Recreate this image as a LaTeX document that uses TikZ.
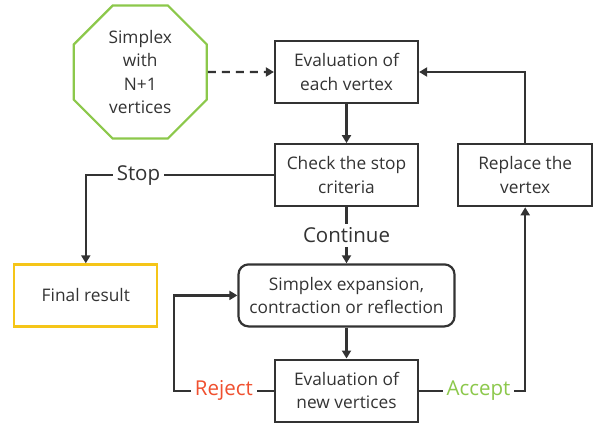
\documentclass[tikz,border=0pt]{standalone}
\usepackage{fontspec}
\setmainfont{Open Sans}
\usetikzlibrary{shapes.geometric,
                arrows.meta,
                positioning}
\definecolor{ink}{HTML}{333333}
\definecolor{startgreen}{HTML}{8CC84B}
\definecolor{endyellow}{HTML}{F5C518}
\definecolor{rejectred}{HTML}{F0502F}
\tikzset{block/.style=
   {rectangle,
    draw=ink,
    line width=2.2pt,
    text=ink,
    align=center,
    font=\fontsize{17.3}{23.5}\selectfont,
    minimum width=143pt,
    minimum height=62pt}}
\tikzset{start/.style =
   {regular polygon,
    regular polygon sides=8,
    draw=startgreen,
    line width=2.2pt,
    text=ink,
    align=center,
    font=\fontsize{17.3}{23.5}\selectfont,
    minimum size=144pt}}
\tikzset{tag/.style =
   {fill=white,
    inner sep=4pt,
    text=ink,
    font=\fontsize{20.5}{24}\selectfont}}
\tikzset{arrow/.style = {draw=ink, line width=2.2pt, -{Triangle[length=8pt,width=9pt]}}}

\begin{document}
\begin{tikzpicture}
    \useasboundingbox (0,0) rectangle (594pt,-423pt);

    \node [block] (eval) at (346.5pt,-72pt) {Evaluation of\\each vertex};

    \node [start,
           left = 66pt of eval] (start) {Simplex\\with\\N+1\\vertices};

    \node [block,
           below = 39pt of eval] (check) {Check the stop\\criteria};

    \node [block,
           minimum width=134pt,
           right = 38pt of check] (replace) {Replace the\\vertex};

    \node [block,
           rounded corners=10pt,
           minimum width=216pt,
           below = 56pt of check] (simplex) {Simplex expansion,\\contraction or reflection};

    \node [block,
           below = 31pt of simplex] (evalnew) {Evaluation of\\new vertices};

    \node [block,
           draw=endyellow,
           left = 79pt of simplex] (final) {Final result};

    \draw [arrow, dash pattern=on 8pt off 6pt] (start) -- (eval);
    \draw [arrow] (eval) -- (check);
    \draw [arrow] (check.west) -| node[tag, pos=0.36] {Stop} (final.north);
    \draw [arrow] (check) -- node[tag] {Continue} (simplex);
    \draw [arrow] (simplex) -- (evalnew);
    \draw [arrow] (evalnew.west) -- node[tag, text=rejectred] {Reject} ++(-100pt,0) |- (simplex.west);
    \draw [arrow] (evalnew.east) -| node[tag, pos=0.28, text=startgreen] {Accept} (replace.south);
    \draw [arrow] (replace.north) |- (eval.east);

\end{tikzpicture}
\end{document}
